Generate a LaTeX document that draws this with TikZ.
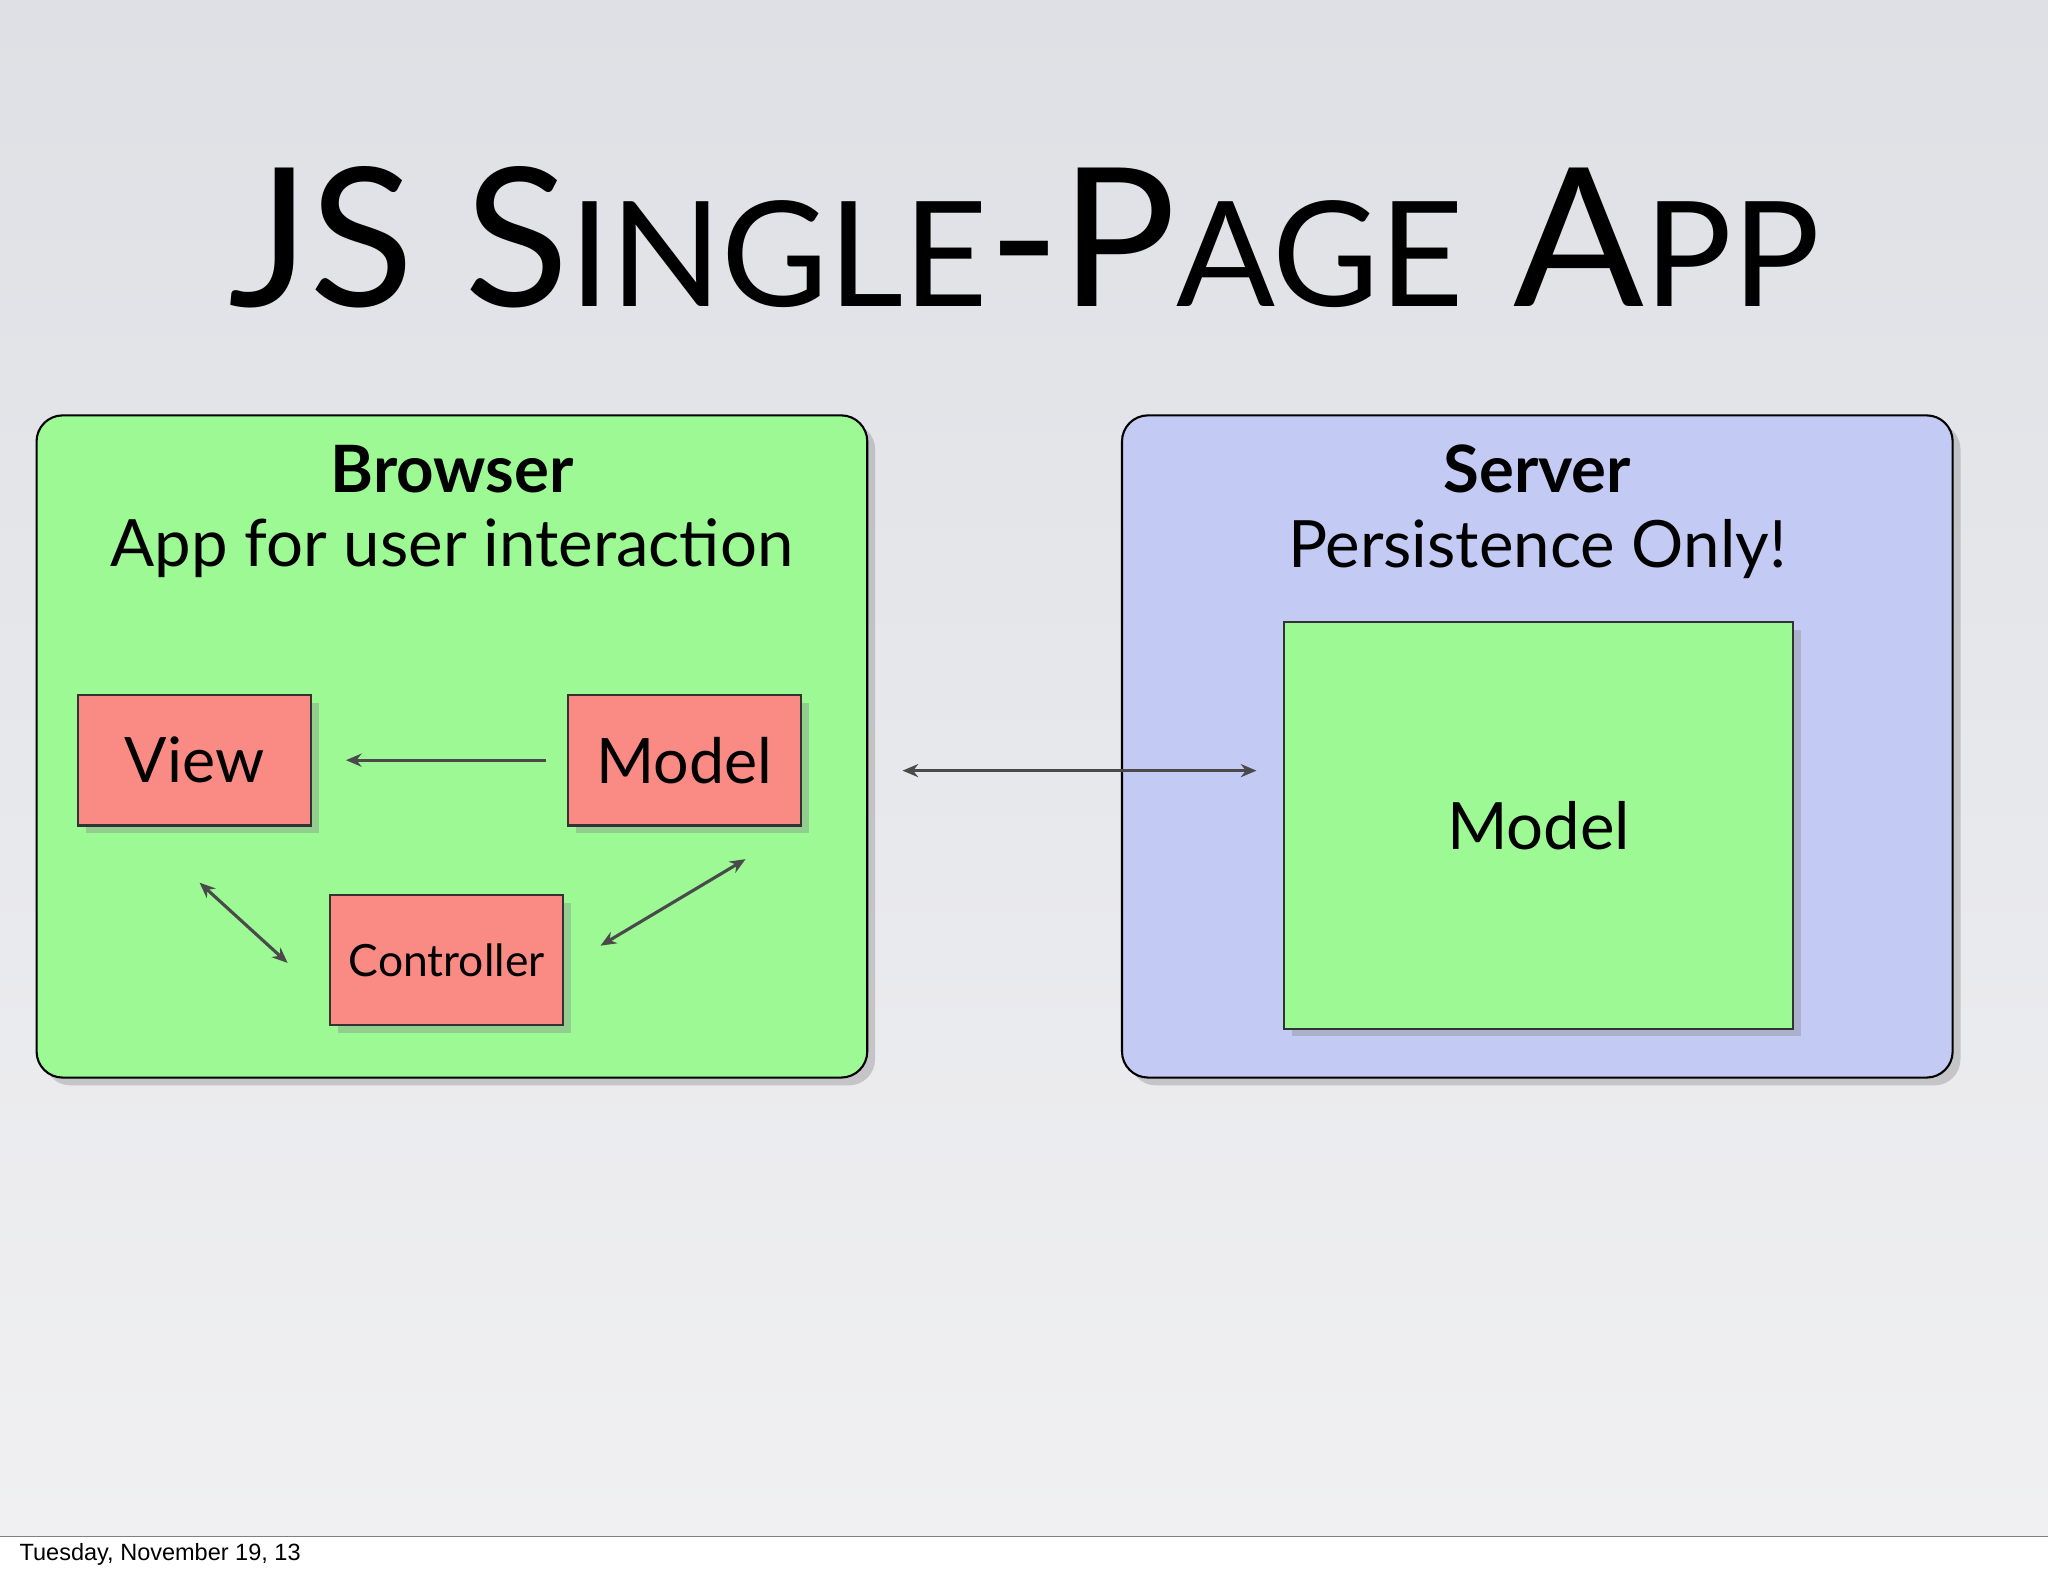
\documentclass[tikz,border=0pt]{standalone}
\usepackage{fontspec}
\setmainfont{Lato}
\newfontfamily\footfont{Liberation Sans}
\usetikzlibrary{shadows,arrows.meta}
\definecolor{boxgreen}{HTML}{9CF994}
\definecolor{boxblue}{HTML}{C3CAF4}
\definecolor{boxred}{HTML}{FA8A84}
\definecolor{arrowgray}{HTML}{4A4A4A}
\definecolor{slidetop}{HTML}{DEE0E5}
\definecolor{slidebottom}{HTML}{F0F0F2}
\tikzset{
  panel/.style={draw=black,thick,rounded corners=10pt,drop shadow={opacity=0.35,shadow xshift=3pt,shadow yshift=-3pt}},
  part/.style={draw=black!80,thick,fill=boxred,drop shadow={opacity=0.35,shadow xshift=3pt,shadow yshift=-3pt}},
  link/.style={draw=arrowgray,very thick,-{Stealth[length=6pt,width=5pt]}},
  duplex/.style={draw=arrowgray,very thick,{Stealth[length=6pt,width=5pt]}-{Stealth[length=6pt,width=5pt]}}
}
\begin{document}
\begin{tikzpicture}[x=0.5pt,y=-0.5pt]
        \useasboundingbox (0,0) rectangle (1568,1206);
        \shade[top color=slidetop,bottom color=slidebottom] (0,0) rectangle (1568,1176);
        \fill[white] (0,1176) rectangle (1568,1206);
        \draw[black!50] (0,1176) -- (1568,1176);
        \node[anchor=west,font=\footfont\fontsize{9}{10}\selectfont] (date) at (8,1190) {Tuesday, November 19, 13};

        \node[font=\fontsize{74}{80}\selectfont] (title) at (784,182)
          {JS S{\fontsize{56}{60}\selectfont INGLE}-P{\fontsize{56}{60}\selectfont AGE} A{\fontsize{56}{60}\selectfont PP}};

        % browser side
        \draw[panel,fill=boxgreen] (28,318) rectangle (664,825);
        \node[font=\bfseries\fontsize{25}{28}\selectfont] (browser) at (346,359) {Browser};
        \node[font=\fontsize{25}{28}\selectfont] (browsersub) at (346,420) {App for user interaction};
        \node[part,minimum width=89pt,minimum height=50pt,font=\fontsize{24}{26}\selectfont] (view) at (149,582) {View};
        \node[part,minimum width=89pt,minimum height=50pt,font=\fontsize{24}{26}\selectfont] (model) at (524,582) {Model};
        \node[part,minimum width=89pt,minimum height=50pt,font=\fontsize{17}{20}\selectfont] (ctrl) at (342,735) {Controller};
        \draw[link] ([xshift=-8pt]model.west) -- ([xshift=13pt]view.east);
        \draw[duplex] ([shift={(-86,43)}]view.south east) -- ([shift={(-32,53)}]ctrl.north west);
        \draw[duplex] ([shift={(28,-11)}]ctrl.east) -- ([shift={(-43,25)}]model.south east);

        % server side
        \draw[panel,fill=boxblue] (859,318) rectangle (1495,825);
        \node[font=\bfseries\fontsize{25}{28}\selectfont] (server) at (1177,359) {Server};
        \node[font=\fontsize{25}{28}\selectfont] (serversub) at (1177,420) {Persistence Only!};
        \node[part,fill=boxgreen,minimum width=195pt,minimum height=155.5pt,font=\fontsize{25}{28}\selectfont] (store) at (1178,632) {Model};

        \coordinate (left) at (691,590);
        \coordinate (right) at (962,590);
        \draw[duplex] (left) -- (right);
\end{tikzpicture}
\end{document}
